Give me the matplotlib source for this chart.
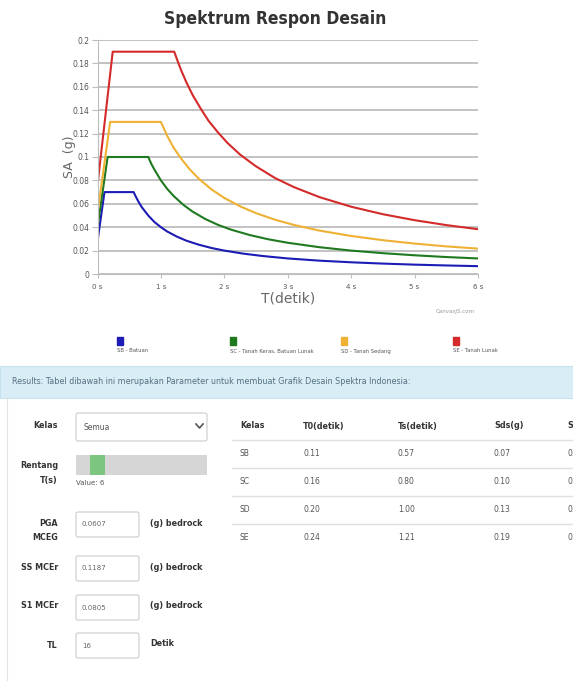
import matplotlib.pyplot as plt
from matplotlib.patches import Rectangle, FancyBboxPatch

# values
sb_t = [0, 0.11, 0.57, 0.6, 0.65, 0.7, 0.8, 0.9, 1.0, 1.1, 1.25, 1.4, 1.6, 1.8, 2.0, 2.3, 2.6, 3.0,
        3.5, 4.0, 4.5, 5.0, 5.5, 6.0]
sb_sa = [0.028, 0.07, 0.07, 0.0665, 0.0614, 0.057, 0.050, 0.0443, 0.040, 0.0363, 0.032, 0.0285, 0.025,
         0.0222, 0.020, 0.0174, 0.0154, 0.0133, 0.0114, 0.010, 0.0089, 0.008, 0.0073, 0.0067]
sc_t = [0, 0.16, 0.80, 0.85, 0.9, 1.0, 1.1, 1.2, 1.35, 1.5, 1.7, 1.9, 2.1, 2.4, 2.7, 3.0, 3.5, 4.0,
        4.5, 5.0, 5.5, 6.0]
sc_sa = [0.04, 0.10, 0.10, 0.094, 0.089, 0.080, 0.0727, 0.0667, 0.0593, 0.0533, 0.047, 0.042, 0.038,
         0.0333, 0.0296, 0.0267, 0.0229, 0.020, 0.0178, 0.016, 0.0145, 0.0133]
sd_t = [0, 0.20, 1.00, 1.05, 1.1, 1.2, 1.3, 1.45, 1.6, 1.8, 2.0, 2.25, 2.5, 2.8, 3.1, 3.5, 4.0, 4.5,
        5.0, 5.5, 6.0]
sd_sa = [0.052, 0.13, 0.13, 0.124, 0.118, 0.108, 0.100, 0.0897, 0.0813, 0.0722, 0.065, 0.0578, 0.052,
         0.0464, 0.0419, 0.0371, 0.0325, 0.0289, 0.026, 0.0236, 0.0217]
se_t = [0, 0.24, 1.21, 1.26, 1.32, 1.4, 1.5, 1.62, 1.75, 1.9, 2.05, 2.25, 2.5, 2.8, 3.1, 3.5, 4.0,
        4.5, 5.0, 5.5, 6.0]
se_sa = [0.076, 0.19, 0.19, 0.1825, 0.174, 0.164, 0.153, 0.142, 0.131, 0.121, 0.112, 0.102, 0.092,
         0.082, 0.0742, 0.0657, 0.0575, 0.0511, 0.046, 0.0418, 0.0383]

series_names = ["SB - Batuan", "SC - Tanah Keras, Batuan Lunak", "SD - Tanah Sedang", "SE - Tanah Lunak"]
series_colors = ["#1c1cb4", "#1f7a1f", "#efb133", "#d42a2a"]

x_ticks = [0, 1, 2, 3, 4, 5, 6]
x_labels = ["0 s", "1 s", "2 s", "3 s", "4 s", "5 s", "6 s"]
y_ticks = [0, 0.02, 0.04, 0.06, 0.08, 0.1, 0.12, 0.14, 0.16, 0.18, 0.2]
y_labels = ["0", "0.02", "0.04", "0.06", "0.08", "0.1", "0.12", "0.14", "0.16", "0.18", "0.2"]

# table + form contents
tbl_header = ["Kelas", "T0(detik)", "Ts(detik)", "Sds(g)", "S"]
tbl_kelas = ["SB", "SC", "SD", "SE"]
tbl_t0 = ["0.11", "0.16", "0.20", "0.24"]
tbl_ts = ["0.57", "0.80", "1.00", "1.21"]
tbl_sds = ["0.07", "0.10", "0.13", "0.19"]
tbl_last = ["0.", "0.", "0.", "0."]

W, H = 573, 681
fig = plt.figure(figsize=(W / 100, H / 100), dpi=100)
fig.patch.set_facecolor("white")

# ---- chart ----
L, R, T, B = 97.5, 478, 40, 274
ax = fig.add_axes([L / W, 1 - B / H, (R - L) / W, (B - T) / H])
for t, sa, c in zip([sb_t, sc_t, sd_t, se_t], [sb_sa, sc_sa, sd_sa, se_sa], series_colors):
    ax.plot(t, sa, color=c, lw=1.5, solid_joinstyle="round")
ax.set_xlim(0, 6)
ax.set_ylim(0, 0.2)
ax.set_xticks(x_ticks)
ax.set_xticklabels(x_labels, fontsize=5, color="#555555")
ax.set_yticks(y_ticks)
ax.set_yticklabels(y_labels, fontsize=5.5, color="#555555")
ax.grid(axis="y", color="#bdbdbd", lw=1.3)
ax.set_axisbelow(True)
for s in ["top", "right"]:
    ax.spines[s].set_visible(False)
ax.spines["left"].set_color("#bdbdbd")
ax.spines["bottom"].set_color("#bdbdbd")
ax.tick_params(axis="y", length=4, color="#bdbdbd", pad=2)
ax.tick_params(axis="x", length=3, color="#bdbdbd", pad=4)
ax.set_ylabel("SA  (g)", fontsize=9, color="#666666", labelpad=-3)
ax.set_xlabel("T(detik)", fontsize=10, color="#666666", labelpad=1)

# ---- page overlay in pixel coordinates ----
ov = fig.add_axes([0, 0, 1, 1], zorder=-1)
ov.set_xlim(0, W)
ov.set_ylim(H, 0)
ov.axis("off")

ov.text(275, 19, "Spektrum Respon Desain", ha="center", va="center", fontsize=12.5,
        fontweight="heavy", fontstretch="condensed", color="#333333", family="DejaVu Sans")
ov.text(455, 312, "CanvasJS.com", ha="center", va="center", fontsize=4, color="#999999")

# legend
leg_x = [117, 230, 341, 453]
for lx, name, c in zip(leg_x, series_names, series_colors):
    ov.add_patch(Rectangle((lx, 337), 6, 8, color=c))
    ov.text(lx, 351, name, ha="left", va="center", fontsize=3.8, color="#555555")

# results bar
ov.add_patch(Rectangle((0, 366), W, 32, facecolor="#d9edf7", edgecolor="#c4e3ef", lw=0.8))
ov.text(12, 382, "Results: Tabel dibawah ini merupakan Parameter untuk membuat Grafik Desain Spektra Indonesia:",
        ha="left", va="center", fontsize=5.8, color="#55707f")
ov.plot([7, 7], [398, H], color="#e3e3e3", lw=0.8)

# form labels
lab_kw = dict(ha="right", va="center", fontsize=5.8, fontweight="bold", color="#333333")
ov.text(58, 426, "Kelas", **lab_kw)
ov.text(58, 466, "Rentang", **lab_kw)
ov.text(58, 480, "T(s)", **lab_kw)
ov.text(58, 523, "PGA", **lab_kw)
ov.text(58, 537, "MCEG", **lab_kw)
ov.text(58, 567, "SS MCEr", **lab_kw)
ov.text(58, 606, "S1 MCEr", **lab_kw)
ov.text(58, 645, "TL", **lab_kw)

# select box
ov.add_patch(FancyBboxPatch((76, 413), 131, 28, boxstyle="round,pad=0,rounding_size=2",
                            facecolor="white", edgecolor="#cccccc", lw=0.8))
ov.text(84, 427, "Semua", ha="left", va="center", fontsize=5.5, color="#555555")
ov.plot([196, 199.5, 203], [424, 428, 424], color="#555555", lw=1.2)

# slider
ov.add_patch(Rectangle((76, 455), 131, 20, facecolor="#d6d6d6", edgecolor="none"))
ov.add_patch(Rectangle((90, 455), 15, 20, facecolor="#7cc57e", edgecolor="none"))
ov.text(76, 483, "Value: 6", ha="left", va="center", fontsize=5, color="#555555")

# inputs
inputs = [(512, "0.0607", "(g) bedrock"), (556, "0.1187", "(g) bedrock"),
          (595, "0.0805", "(g) bedrock"), (633, "16", "Detik")]
for y0, val, unit in inputs:
    ov.add_patch(FancyBboxPatch((76, y0), 63, 25, boxstyle="round,pad=0,rounding_size=2",
                                facecolor="white", edgecolor="#cccccc", lw=0.8))
    ov.text(82, y0 + 12.5, val, ha="left", va="center", fontsize=5, color="#666666")
    ov.text(150, y0 + 11, unit, ha="left", va="center", fontsize=5.8, fontweight="bold", color="#333333")

# table
col_x = [240, 303, 398, 494, 567]
for cx, h in zip(col_x, tbl_header):
    ov.text(cx, 426, h, ha="left", va="center", fontsize=5.8, fontweight="bold", color="#333333")
row_y = [454, 481, 510, 538]
for sep in [440, 468, 496, 524]:
    ov.plot([232, W], [sep, sep], color="#e0e0e0", lw=1.0)
for i, ry in enumerate(row_y):
    for cx, v in zip(col_x, [tbl_kelas[i], tbl_t0[i], tbl_ts[i], tbl_sds[i], tbl_last[i]]):
        ov.text(cx, ry, v, ha="left", va="center", fontsize=5.5, color="#555555")

fig.savefig("out.png", dpi=100)
